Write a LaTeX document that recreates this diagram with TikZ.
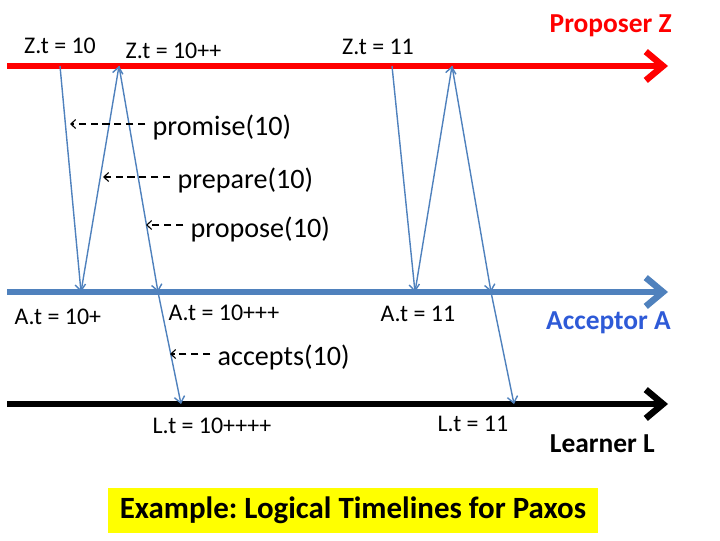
\documentclass[tikz,border=0pt]{standalone}
\usepackage{fontspec}
\setmainfont{Carlito}
\usetikzlibrary{positioning,arrows.meta,calc}
\definecolor{propred}{HTML}{FF0000}
\definecolor{acceptblue}{HTML}{4F81BD}
\definecolor{accepttext}{HTML}{2E5AD7}
\definecolor{titleyellow}{HTML}{FFFF00}
\frenchspacing

\tikzset{
  timeline/.style={line width=4.6pt, -{Straight Barb[length=4.3mm,width=7.2mm]}},
  msg/.style={draw=acceptblue, line width=1pt, -{Straight Barb[length=1.6mm,width=2.6mm]}},
  note/.style={dash pattern=on 5pt off 3.5pt, line width=0.8pt, -{Straight Barb[length=1.2mm,width=2.2mm]}},
  lbl/.style={font=\fontsize{17}{20}\selectfont, inner sep=1pt},
  msgname/.style={font=\fontsize{20}{24}\selectfont, inner sep=1pt},
  role/.style={font=\bfseries\fontsize{19.5}{23}\selectfont, inner sep=0pt}
}

\begin{document}
\begin{tikzpicture}[x=0.025cm,y=-0.025cm]
   \useasboundingbox (0,0) rectangle (720,540);

   % timelines
   \coordinate (zstart) at (7,66);
   \coordinate (zend) at (668,66);
   \coordinate (astart) at (7,292);
   \coordinate (aend) at (668,292);
   \coordinate (lstart) at (7,404);
   \coordinate (lend) at (668,404);
   \draw[timeline, draw=propred] (zstart) -- (zend);
   \draw[timeline, draw=acceptblue] (astart) -- (aend);
   \draw[timeline, draw=black] (lstart) -- (lend);

   \node[role, text=propred, anchor=base east] (proposer) at (672,32) {Proposer Z};
   \node[role, text=accepttext, anchor=base east] (acceptor) at (671,329) {Acceptor A};
   \node[role, anchor=base east] (learner) at (655,452) {Learner L};

   % message events
   \coordinate (z1) at (60,66);
   \coordinate (a1) at (81,292);
   \coordinate (z2) at (119,66);
   \coordinate (a2) at (158,292);
   \coordinate (l1) at (181,404);
   \coordinate (z3) at (392,66);
   \coordinate (a3) at (415,292);
   \coordinate (z4) at (452,66);
   \coordinate (a4) at (491,292);
   \coordinate (l2) at (514,404);

   \draw[msg] (z1) -- (a1);
   \draw[msg] (a1) -- (z2);
   \draw[msg] (z2) -- (a2);
   \draw[msg] (a2) -- (l1);
   \draw[msg] (z3) -- (a3);
   \draw[msg] (a3) -- (z4);
   \draw[msg] (z4) -- (a4);
   \draw[msg] (a4) -- (l2);

   % clocks
   \node[lbl, anchor=base] (zt10) at (60,53) {Z.t = 10};
   \node[lbl, anchor=base west] (zt10pp) at (124,58) {Z.t = 10++};
   \node[lbl, anchor=base] (zt11) at (378,54) {Z.t = 11};
   \node[lbl, anchor=base west] (at10p) at (13,324) {A.t = 10+};
   \node[lbl, anchor=base west] (at10ppp) at (167,320) {A.t = 10+++};
   \node[lbl, anchor=base west] (at11) at (379,321) {A.t = 11};
   \node[lbl, anchor=base west] (lt10) at (151,433) {L.t = 10++++};
   \node[lbl, anchor=base west] (lt11) at (436,431) {L.t = 11};

   % message names
   \coordinate (promisetip) at (70,124);
   \coordinate (preparetip) at (103,177);
   \coordinate (proposetip) at (146,225);
   \coordinate (acceptstip) at (170,354);
   \node[msgname, anchor=base west] (promise) at (151,135) {promise(10)};
   \node[msgname, anchor=base west] (prepare) at (176,188) {prepare(10)};
   \node[msgname, anchor=base west] (propose) at (189,237) {propose(10)};
   \node[msgname, anchor=base west] (accepts) at (216,365) {accepts(10)};
   \draw[note] ([xshift=-4pt]promise.west |- promisetip) -- (promisetip);
   \draw[note] ([xshift=-4pt]prepare.west |- preparetip) -- (preparetip);
   \draw[note] ([xshift=-4pt]propose.west |- proposetip) -- (proposetip);
   \draw[note] ([xshift=-4pt]accepts.west |- acceptstip) -- (acceptstip);

   \node[fill=titleyellow, minimum width=12.25cm, minimum height=1.125cm,
         font=\bfseries\fontsize{22}{26}\selectfont] (title) at (353,510.5)
   {Example: Logical Timelines for Paxos};
\end{tikzpicture}
\end{document}
